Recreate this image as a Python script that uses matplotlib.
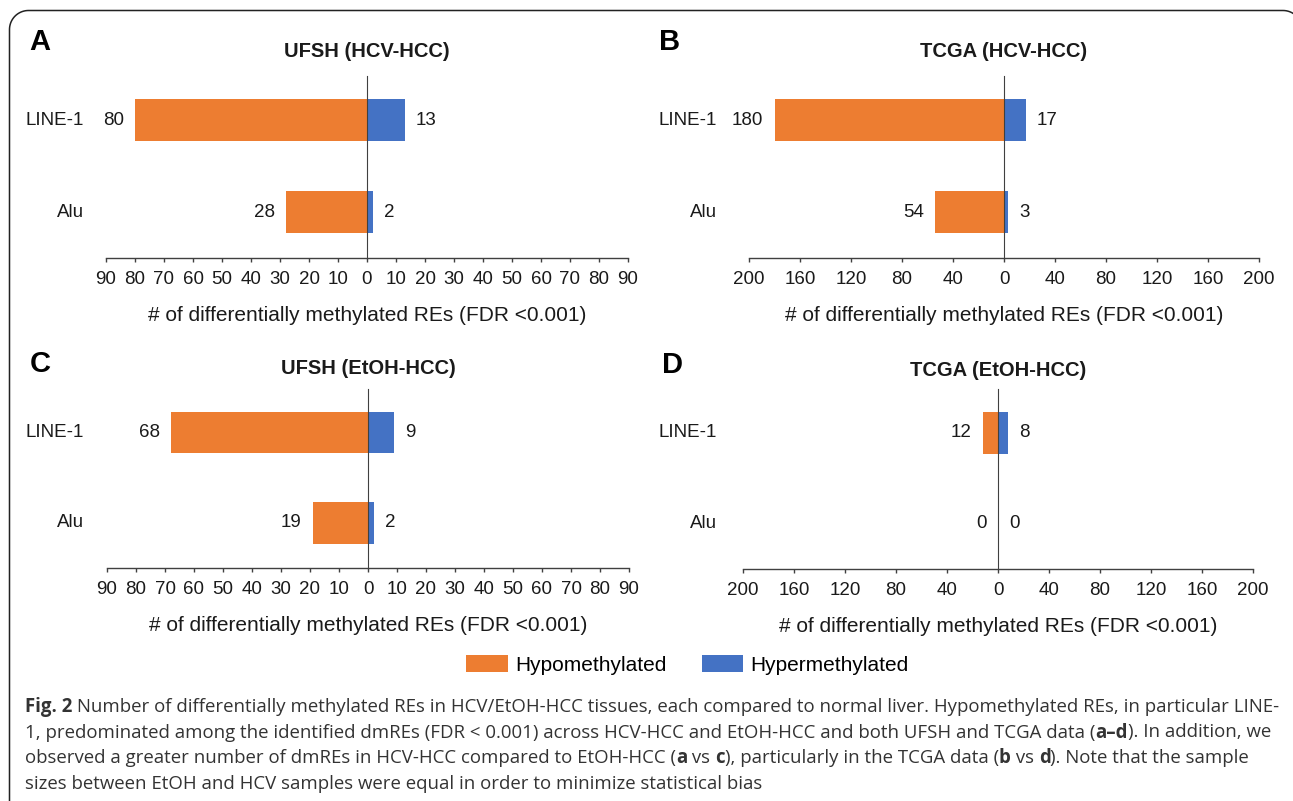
import matplotlib
matplotlib.use("Agg")
import numpy as np
import matplotlib.pyplot as plt
from matplotlib.lines import Line2D
from matplotlib.patches import Patch

plt.rcParams['font.family'] = ['Liberation Sans', 'DejaVu Sans']

W, H = 1293, 801

categories = ["LINE-1", "Alu"]
cat_pos = [1, 0]

ufsh_hcv_hypo = [80, 28]
ufsh_hcv_hyper = [13, 2]
tcga_hcv_hypo = [180, 54]
tcga_hcv_hyper = [17, 3]
ufsh_etoh_hypo = [68, 19]
ufsh_etoh_hyper = [9, 2]
tcga_etoh_hypo = [12, 0]
tcga_etoh_hyper = [8, 0]

ufsh_ticks = list(range(-90, 91, 10))
tcga_ticks = list(range(-200, 201, 40))

ORANGE = '#ED7D31'
BLUE = '#4472C4'
INK = '#1a1a1a'

caption_lines = [
    [("Fig. 2", 'bold'), (" Number of differentially methylated REs in HCV/EtOH-HCC tissues, each compared to normal liver. Hypomethylated REs, in particular LINE-", 'normal')],
    [("1, predominated among the identified dmREs (FDR < 0.001) across HCV-HCC and EtOH-HCC and both UFSH and TCGA data (", 'normal'), ("a\u2013d", 'bold'), ("). In addition, we", 'normal')],
    [("observed a greater number of dmREs in HCV-HCC compared to EtOH-HCC (", 'normal'), ("a", 'bold'), (" vs ", 'normal'), ("c", 'bold'),
     ("), particularly in the TCGA data (", 'normal'), ("b", 'bold'), (" vs ", 'normal'), ("d", 'bold'), ("). Note that the sample", 'normal')],
    [("sizes between EtOH and HCV samples were equal in order to minimize statistical bias", 'normal')],
]


def px_rect(left, right, top, bottom):
    return [left / W, 1 - bottom / H, (right - left) / W, (bottom - top) / H]


def draw_border(fig):
    # open-bottom rounded frame; right side runs just off the canvas
    r = 19
    left, top = 9.5, 10.5
    cx_right = 1283
    a1 = np.linspace(np.pi, np.pi / 2, 20)
    a2 = np.linspace(np.pi / 2, 0, 20)
    xs = [left] + list(left + r + r * np.cos(a1)) + list(cx_right + r * np.cos(a2)) + [cx_right + r]
    ys = [H + 5] + list(top + r - r * np.sin(a1)) + list(top + r - r * np.sin(a2)) + [H + 5]
    fig.add_artist(Line2D([x / W for x in xs], [1 - y / H for y in ys],
                          transform=fig.transFigure, color='#222222', linewidth=1.1))


def draw_panel(fig, rect, letter, letter_xy, title, title_y, hypo, hyper, ticks, ypad):
    ax = fig.add_axes(px_rect(*rect))
    ax.barh(cat_pos, [-v for v in hypo], height=0.46, color=ORANGE, linewidth=0)
    ax.barh(cat_pos, hyper, height=0.46, color=BLUE, linewidth=0)
    lim = ticks[-1]
    ax.set_xlim(-lim, lim)
    ax.set_ylim(-0.5, 1.48)
    ax.set_xticks(ticks)
    ax.set_xticklabels([str(abs(t)) for t in ticks])
    ax.set_yticks([])
    ax.tick_params(axis='x', length=3, width=1, pad=6.5, labelsize=13.5, color='#404040',
                   labelcolor=INK)
    for s in ['top', 'right']:
        ax.spines[s].set_visible(False)
    ax.spines['left'].set_position(('data', 0))
    ax.spines['left'].set_color('#404040')
    ax.spines['left'].set_linewidth(0.8)
    ax.spines['bottom'].set_color('#404040')
    ax.spines['bottom'].set_linewidth(1.0)
    ax.set_facecolor('none')

    # category names sit left of the axes, not of the zero line
    for y, name in zip(cat_pos, categories):
        ax.annotate(name, (0, y), xycoords=ax.get_yaxis_transform(),
                    xytext=(-ypad, 0), textcoords='offset points',
                    ha='right', va='center', fontsize=13.5, color=INK)
    for y, v in zip(cat_pos, hypo):
        ax.annotate(str(v), (-v, y), xytext=(-8, 0), textcoords='offset points',
                    ha='right', va='center', fontsize=13.5, color=INK)
    for y, v in zip(cat_pos, hyper):
        ax.annotate(str(v), (v, y), xytext=(8, 0), textcoords='offset points',
                    ha='left', va='center', fontsize=13.5, color=INK)
    ax.set_xlabel('# of differentially methylated REs (FDR <0.001)', fontsize=15,
                  labelpad=12.5, color=INK)
    cx = (rect[0] + rect[1]) / 2
    fig.text(cx / W, 1 - title_y / H, title, ha='center', va='baseline',
             fontsize=14.5, fontweight='bold', color=INK)
    fig.text(letter_xy[0] / W, 1 - letter_xy[1] / H, letter, ha='left', va='baseline',
             fontsize=21, fontweight='bold', color='black')
    return ax


def draw_caption(fig, lines, x0, baselines, size):
    renderer = fig.canvas.get_renderer()
    fam = ['Open Sans', 'DejaVu Sans']
    for segs, yb in zip(lines, baselines):
        x = x0
        for text, weight in segs:
            fig.text(x / W, 1 - yb / H, text, ha='left', va='baseline', fontsize=size,
                     fontweight=weight, family=fam, color='#333333')
            probe = fig.text(0, 0, text + '|', fontsize=size, fontweight=weight, family=fam)
            bar = fig.text(0, 0, '|', fontsize=size, fontweight=weight, family=fam)
            x += probe.get_window_extent(renderer).width - bar.get_window_extent(renderer).width
            probe.remove()
            bar.remove()


def main():
    fig = plt.figure(figsize=(W / 100, H / 100), dpi=100)
    draw_border(fig)

    draw_panel(fig, (106, 628, 76, 258), 'A', (29, 50), 'UFSH (HCV-HCC)', 57,
               ufsh_hcv_hypo, ufsh_hcv_hyper, ufsh_ticks, 16)
    draw_panel(fig, (749, 1259, 76, 258), 'B', (659, 50), 'TCGA (HCV-HCC)', 57,
               tcga_hcv_hypo, tcga_hcv_hyper, tcga_ticks, 23)
    draw_panel(fig, (107, 629, 389, 568), 'C', (30, 372), 'UFSH (EtOH-HCC)', 374,
               ufsh_etoh_hypo, ufsh_etoh_hyper, ufsh_ticks, 16.5)
    draw_panel(fig, (743, 1253, 389, 569), 'D', (662, 373), 'TCGA (EtOH-HCC)', 376,
               tcga_etoh_hypo, tcga_etoh_hyper, tcga_ticks, 19)

    handles = [Patch(facecolor=ORANGE, label='Hypomethylated'),
               Patch(facecolor=BLUE, label='Hypermethylated')]
    fig.legend(handles=handles, loc='center', bbox_to_anchor=(687.5 / W, 1 - 665 / H),
               ncol=2, frameon=False, fontsize=15, handlelength=2.0, handleheight=0.9,
               handletextpad=0.34, columnspacing=1.7, borderpad=0)

    draw_caption(fig, caption_lines, 25, [712, 737.5, 763, 789], 13.4)

    fig.savefig('out.png', dpi=100)


if __name__ == "__main__":
    main()
